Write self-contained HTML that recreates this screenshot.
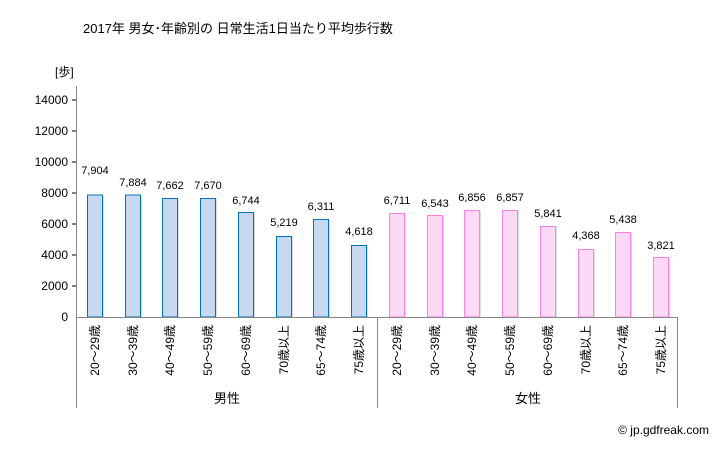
<!DOCTYPE html>
<html><head><meta charset="utf-8"><style>
body{margin:0;background:#fff;}
svg text{font-family:"Liberation Sans","Noto Sans CJK JP",sans-serif;fill:#000;}
.b rect.m{fill:#c6d9f0;stroke:#0070c0;}
.p rect.m{fill:#fcd9f5;stroke:#ff80e0;}
rect.s{fill:#ddd;}
</style></head><body>
<svg width="728" height="450" xmlns="http://www.w3.org/2000/svg">
<text x="83" y="33" font-size="13">2017年 男女･年齢別の 日常生活1日当たり平均歩行数</text>
<text x="55" y="76" font-size="12">[歩]</text>
<g font-size="12" text-anchor="end">
<text x="68" y="104">14000</text><text x="68" y="135">12000</text><text x="68" y="166">10000</text>
<text x="68" y="197">8000</text><text x="68" y="228">6000</text><text x="68" y="259">4000</text>
<text x="68" y="290">2000</text><text x="68" y="321">0</text>
</g>
<g stroke="#000"><line x1="72" y1="100" x2="76" y2="100"/><line x1="72" y1="131" x2="76" y2="131"/><line x1="72" y1="162" x2="76" y2="162"/><line x1="72" y1="193" x2="76" y2="193"/><line x1="72" y1="224" x2="76" y2="224"/><line x1="72" y1="255" x2="76" y2="255"/><line x1="72" y1="286" x2="76" y2="286"/></g>

<g class="b">
<rect class="s" x="88" y="196" width="16" height="121"/><rect class="m" x="87.5" y="195" width="15" height="122"/>
<rect class="s" x="126" y="196" width="16" height="121"/><rect class="m" x="125.5" y="195" width="15" height="122"/>
<rect class="s" x="163" y="199" width="16" height="118"/><rect class="m" x="162.5" y="198.5" width="15" height="118.5"/>
<rect class="s" x="201" y="199" width="16" height="118"/><rect class="m" x="200.5" y="198.5" width="15" height="118.5"/>
<rect class="s" x="239" y="213" width="16" height="104"/><rect class="m" x="238.5" y="212.5" width="15" height="104.5"/>
<rect class="s" x="277" y="237" width="16" height="80"/><rect class="m" x="276.5" y="236.5" width="15" height="80.5"/>
<rect class="s" x="314" y="220" width="16" height="97"/><rect class="m" x="313.5" y="219.5" width="15" height="97.5"/>
<rect class="s" x="352" y="246" width="16" height="71"/><rect class="m" x="351.5" y="245.5" width="15" height="71.5"/>
</g>
<g class="p">
<rect class="s" x="390" y="214" width="16" height="103"/><rect class="m" x="389.5" y="213.5" width="15" height="103.5"/>
<rect class="s" x="428" y="216" width="16" height="101"/><rect class="m" x="427.5" y="215.5" width="15" height="101.5"/>
<rect class="s" x="465" y="211" width="16" height="106"/><rect class="m" x="464.5" y="210.5" width="15" height="106.5"/>
<rect class="s" x="503" y="211" width="16" height="106"/><rect class="m" x="502.5" y="210.5" width="15" height="106.5"/>
<rect class="s" x="541" y="227" width="16" height="90"/><rect class="m" x="540.5" y="226.5" width="15" height="90.5"/>
<rect class="s" x="579" y="250" width="16" height="67"/><rect class="m" x="578.5" y="249.5" width="15" height="67.5"/>
<rect class="s" x="616" y="233" width="16" height="84"/><rect class="m" x="615.5" y="232.5" width="15" height="84.5"/>
<rect class="s" x="654" y="258" width="16" height="59"/><rect class="m" x="653.5" y="257.5" width="15" height="59.5"/>
</g>

<g font-size="11" text-anchor="middle">
<text x="95" y="174">7,904</text><text x="133" y="186">7,884</text><text x="170" y="189">7,662</text><text x="208" y="189">7,670</text>
<text x="246" y="204">6,744</text><text x="284" y="226">5,219</text><text x="321" y="210">6,311</text><text x="359" y="235">4,618</text>
<text x="397" y="204">6,711</text><text x="435" y="207">6,543</text><text x="472" y="201">6,856</text><text x="510" y="201">6,857</text>
<text x="548" y="217">5,841</text><text x="586" y="239">4,368</text><text x="623" y="223">5,438</text><text x="661" y="249">3,821</text>
</g>

<g font-size="12" text-anchor="end">
<text transform="translate(99,325) rotate(-90)">20～29歳</text>
<text transform="translate(137,325) rotate(-90)">30～39歳</text>
<text transform="translate(174,325) rotate(-90)">40～49歳</text>
<text transform="translate(212,325) rotate(-90)">50～59歳</text>
<text transform="translate(250,325) rotate(-90)">60～69歳</text>
<text transform="translate(288,325) rotate(-90)">70歳以上</text>
<text transform="translate(325,325) rotate(-90)">65～74歳</text>
<text transform="translate(363,325) rotate(-90)">75歳以上</text>
<text transform="translate(401,325) rotate(-90)">20～29歳</text>
<text transform="translate(439,325) rotate(-90)">30～39歳</text>
<text transform="translate(476,325) rotate(-90)">40～49歳</text>
<text transform="translate(514,325) rotate(-90)">50～59歳</text>
<text transform="translate(552,325) rotate(-90)">60～69歳</text>
<text transform="translate(590,325) rotate(-90)">70歳以上</text>
<text transform="translate(627,325) rotate(-90)">65～74歳</text>
<text transform="translate(665,325) rotate(-90)">75歳以上</text>
</g>

<line x1="76.5" y1="86" x2="76.5" y2="408" stroke="#888"/>
<line x1="76" y1="317.5" x2="678" y2="317.5" stroke="#888"/>
<line x1="377.5" y1="317" x2="377.5" y2="408" stroke="#888"/>
<line x1="677.5" y1="317" x2="677.5" y2="408" stroke="#888"/>
<text x="227" y="403" font-size="13" text-anchor="middle">男性</text>
<text x="528" y="403" font-size="13" text-anchor="middle">女性</text>
<text x="709" y="434" font-size="12" text-anchor="end">© jp.gdfreak.com</text>
</svg>
</body></html>
